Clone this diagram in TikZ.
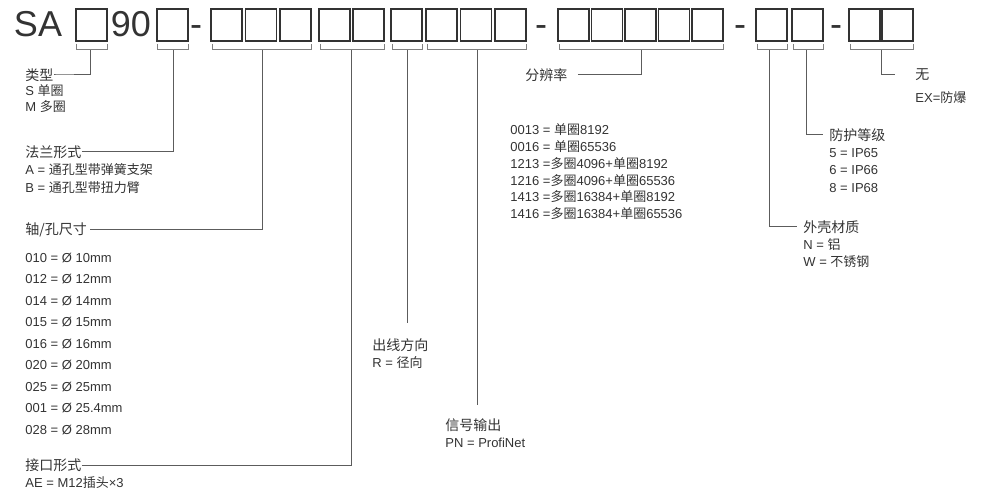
\documentclass[tikz,border=0pt]{standalone}
\usepackage{fontspec}
\setmainfont{Liberation Sans}
\newfontfamily\cjk{Noto Sans CJK SC}
\newcommand\zh[1]{{\cjk #1}}
\definecolor{ink}{HTML}{333333}
\begin{document}
\begin{tikzpicture}[x=0.5pt,y=-0.5pt,
  cell/.style={draw=ink,line width=0.9pt},
  brace/.style={draw=gray,line width=0.5pt},
  lead/.style={draw=ink!80,line width=0.5pt},
  code/.style={font=\fontsize{18}{18}\selectfont,text=ink,inner sep=0pt},
  label/.style={anchor=west,font=\cjk\fontsize{7}{8}\selectfont,text=ink,inner sep=0pt},
  item/.style={anchor=west,font=\fontsize{6.5}{8}\selectfont,text=ink,inner sep=0pt}]
\useasboundingbox (0,0) rectangle (1000,502);

% code row
\node[code] (sa) at (38,24) {SA};
\node[code] (ninety) at (131,24) {90};
\foreach \d in {196,541,740,836}
  \node[code,anchor=base] at (\d,37) {-};
\foreach \bx in {76,157,211,245.5,280,319,353,391,426,460.5,495,558,591.5,625,658.5,692,756,792,849,882}
  \draw[cell] (\bx,9) rectangle ++(31,32);

% brackets
\foreach \a/\b/\c/\n in {76/107/90/ty, 157/188/173/fl, 212/311/262/sh, 320/384/351/ic,
    392/422/407/dr, 427/526/477/sg, 559/723/641/rs, 757/787/769/hs, 793/823/806/ip, 850/913/881/ex}{
  \draw[brace] (\a,44) -- (\a,50) -- (\b,50) -- (\b,44);
  \coordinate (\n) at (\c,50);
}

% labels
\node[label] (tyl) at (25,75) {类型};
\node[item] at (25,91) {S \zh{单圈}};
\node[item] at (25,107) {M \zh{多圈}};
\draw[lead] (tyl.east) -- ++(3,0) -| (ty);

\node[label] (fll) at (25,152) {法兰形式};
\node[item] at (25,170) {A = \zh{通孔型带弹簧支架}};
\node[item] at (25,188) {B = \zh{通孔型带扭力臂}};
\draw[lead] (fll.east) -| (fl);

\node[label] (shl) at (25,230) {轴/孔尺寸};
\foreach \t [count=\i from 0] in {010 = Ø 10mm,012 = Ø 12mm,014 = Ø 14mm,015 = Ø 15mm,016 = Ø 16mm,020 = Ø 20mm,025 = Ø 25mm,001 = Ø 25.4mm,028 = Ø 28mm}
  \node[item] at (25,258+21.5*\i) {\t};
\draw[lead] (shl.east) ++(3,0) -| (sh);

\node[label] (icl) at (25,465) {接口形式};
\node[item] at (25,483) {AE = M12\zh{插头}×3};
\draw[lead] (icl.east) -| (ic);

\node[label] (drl) at (372,345) {出线方向};
\node[item] at (372,363) {R = \zh{径向}};
\draw[lead] (dr) -- (407,323);

\node[label] (sgl) at (445,425) {信号输出};
\node[item] at (445,443) {PN = ProfiNet};
\draw[lead] (sg) -- (477,405);

\node[label] (rsl) at (525,75) {分辨率};
\draw[lead] (rsl.east) ++(10,0) -| (rs);
\foreach \t [count=\i from 0] in {0013 = \zh{单圈}8192,0016 = \zh{单圈}65536,1213 =\zh{多圈}4096+\zh{单圈}8192,1216 =\zh{多圈}4096+\zh{单圈}65536,1413 =\zh{多圈}16384+\zh{单圈}8192,1416 =\zh{多圈}16384+\zh{单圈}65536}
  \node[item] at (510,130+16.7*\i) {\t};

\node[label] (hsl) at (803,227) {外壳材质};
\node[item] at (803,245) {N = \zh{铝}};
\node[item] at (803,262) {W = \zh{不锈钢}};
\draw[lead] (hs) |- ([xshift=-3]hsl.west);

\node[label] (ipl) at (829,135) {防护等级};
\foreach \t [count=\i from 0] in {5 = IP65,6 = IP66,8 = IP68}
  \node[item] at (829,153+17.5*\i) {\t};
\draw[lead] (ip) |- ([xshift=-3]ipl.west);

\node[label] (exl) at (915,75) {无};
\node[item] at (915,98) {EX=\zh{防爆}};
\draw[lead] (ex) |- ([xshift=-10]exl.west);
\end{tikzpicture}
\end{document}
